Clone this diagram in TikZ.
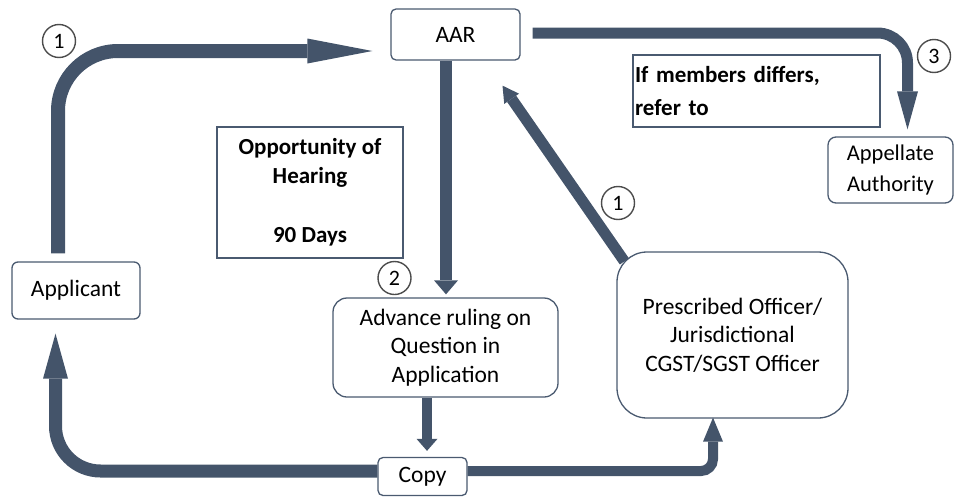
\documentclass[tikz,border=0pt]{standalone}
\usepackage{fontspec}
\setmainfont{Carlito}
\usetikzlibrary{arrows.meta,calc}
\definecolor{arr}{HTML}{44546A}
\definecolor{bord}{HTML}{4A5A70}
\begin{document}
\begin{tikzpicture}[x=1pt,y=-1pt,
  box/.style={draw=bord, line width=1.3pt, fill=white, align=center, inner sep=2pt,
    font=\fontsize{23.5}{28.5}\selectfont},
  rbox/.style={box, rounded corners=#1},
  bbox/.style={draw=bord, line width=1.3pt, align=center, inner sep=2pt,
    font=\bfseries\fontsize{23}{29}\selectfont},
  num/.style={circle, draw=black!70, line width=1.4pt, minimum size=33pt, inner sep=0pt,
    fill=white, font=\fontsize{22}{22}\selectfont},
  flow/.style={draw=arr, line width=#1},
  head/.style 2 args={-{Triangle[length=#1,width=#2,line width=0pt 0 0]}},
]
\useasboundingbox (0,0) rectangle (955,498);

% boxes
\node[rbox=5pt, minimum width=129pt, minimum height=51pt] (aar) at (455.5,34.5) {AAR};
\node[bbox, minimum width=186pt, minimum height=131pt] (opp) at (310,192.5)
  {Opportunity of\\Hearing\\[30pt]90 Days};
\node[bbox, text width=243pt, minimum height=72pt, align=left,
  font=\bfseries\fontsize{23}{33}\selectfont] (iff) at (756.5,91)
  {If members differs,\\refer to};
\node[rbox=6pt, minimum width=128pt, minimum height=57pt] (app) at (76,290.5) {Applicant};
\node[rbox=14pt, minimum width=225pt, minimum height=99pt] (adv) at (445.5,347.5)
  {Advance ruling on\\Question in\\Application};
\node[rbox=5pt, minimum width=89pt, minimum height=38pt] (copy) at (422.5,476.5) {Copy};
\node[rbox=30pt, minimum width=231pt, minimum height=166pt] (pres) at (732.5,335)
  {Prescribed Officer/\\Jurisdictional\\CGST/SGST Officer};
\node[rbox=8pt, minimum width=125pt, minimum height=66pt,
  font=\fontsize{22.5}{31}\selectfont] (appa) at (890.5,170) {Appellate\\Authority};

% connectors
\draw[flow=14pt, head={65pt}{25pt}, rounded corners=60pt]
  ($(app.north)+(-18,-8)$) |- ($(aar.west)+(-18,16.5)$);
\draw[flow=12pt, head={14pt}{24pt}]
  ($(aar.south)+(-9.5,0)$) coordinate (a2) -- ([yshift=3pt]a2 |- adv.north);
\draw[flow=10pt, head={12pt}{21pt}]
  ($(adv.south)+(-18.5,0)$) coordinate (a3) -- ([yshift=6pt]a3 |- copy.north);
\draw[flow=13pt, head={45pt}{25pt}, rounded corners=45pt]
  ($(copy.west)+(0,-5.5)$) -| ($(app.south)+(-20.5,14)$);
\draw[flow=10pt, head={24pt}{20pt}, rounded corners=12pt]
  ($(copy.east)+(0,-5.5)$) -| ($(pres.south)+(-19.5,-1)$);
\draw[flow=11pt, head={16pt}{18pt}]
  ($(pres.north west)+(8,10)$) -- ($(aar.south)+(47,25)$);
\draw[flow=11pt, head={38pt}{21pt}, rounded corners=30pt]
  ($(aar.east)+(12,-1.5)$) -| ($(appa.north)+(17,-7)$);

% step numbers
\node[num] (n1) at (59,41) {1};
\node[num] (n2) at (394.5,278) {2};
\node[num] (n1b) at (618,203) {1};
\node[num] (n3) at (934,56) {3};
\end{tikzpicture}
\end{document}
